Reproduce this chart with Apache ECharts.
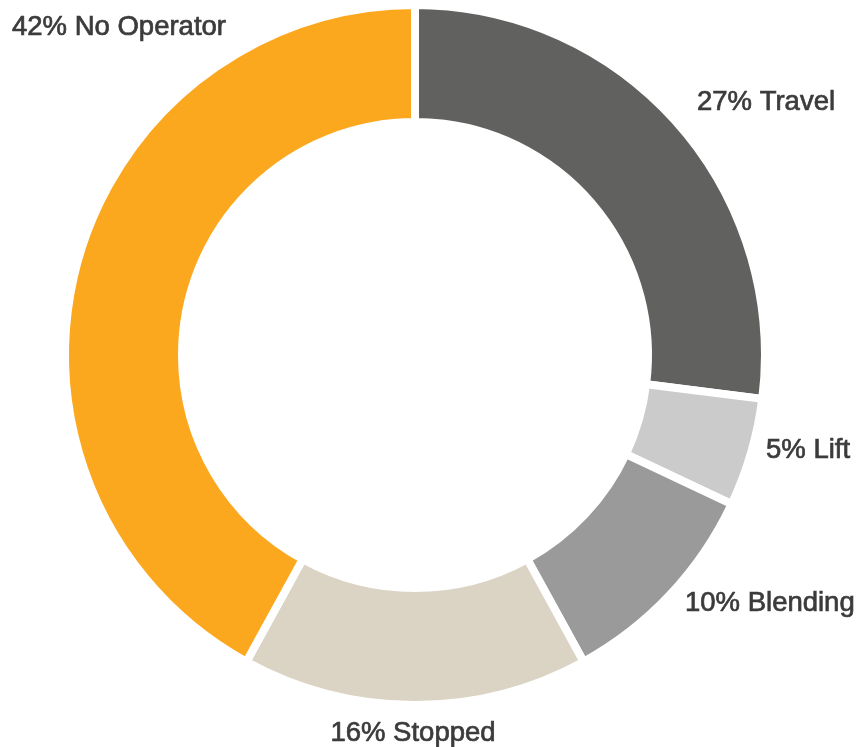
<!DOCTYPE html>
<html>
<head>
<meta charset="utf-8">
<style>
  html, body { margin: 0; padding: 0; background: #fff; }
  #main { width: 859px; height: 747px; }
</style>
<script src="https://cdn.jsdelivr.net/npm/echarts@6/dist/echarts.min.js"></script>
</head>
<body>
<div id="main"></div>
<script>
// share of time per state, in percent (clockwise from 12 o'clock)
var names = ['Travel', 'Lift', 'Blending', 'Stopped', 'No Operator'];
var shares = [27, 5, 10, 16, 42];
var colors = ['#61615f', '#cbcbcb', '#9a9a9a', '#dbd3c3', '#fca81f'];

// where each label sits (left/center x, middle y)
var labelPos = [
    {x: 697, y: 102, align: 'left'},
    {x: 766, y: 450, align: 'left'},
    {x: 685, y: 603, align: 'left'},
    {x: 413, y: 733, align: 'center'},
    {x: 12, y: 27, align: 'left'}
];

var dom = document.getElementById('main');
var myChart = echarts.init(dom);

var pieData = [];
for (var i = 0; i < names.length; i++) {
    pieData.push({
        name: names[i],
        value: shares[i],
        itemStyle: {color: colors[i]}
    });
}

var option = {
    animation: false,
    series: [{
        type: 'pie',
        center: [415, 355],
        radius: [233, 350],
        startAngle: 90,
        clockwise: true,
        avoidLabelOverlap: false,
        itemStyle: {
            borderColor: '#ffffff',
            borderWidth: 8
        },
        label: {
            show: true,
            position: 'outside',
            color: '#3b3b3b',
            fontFamily: 'Liberation Sans',
            fontSize: 27.5,
            // a thin outline in the text colour gives the medium weight
            textBorderColor: '#3b3b3b',
            textBorderWidth: 0.7,
            formatter: function (p) {
                return p.value + '% ' + p.name;
            }
        },
        labelLine: {show: false},
        labelLayout: function (params) {
            var pos = labelPos[params.dataIndex];
            return {
                x: pos.x,
                y: pos.y,
                align: pos.align,
                verticalAlign: 'middle'
            };
        },
        emphasis: {disabled: true},
        data: pieData
    }]
};

myChart.setOption(option);
</script>
</body>
</html>
